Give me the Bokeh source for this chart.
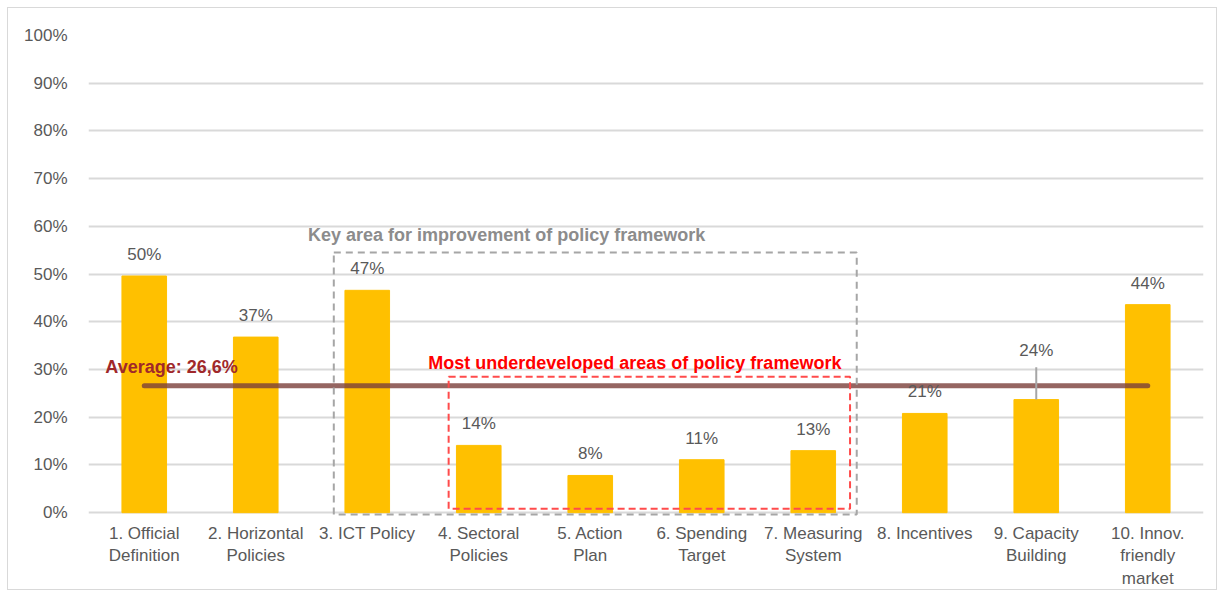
from bokeh.plotting import figure
from bokeh.models import Range1d, FixedTicker, BoxAnnotation, Label
from bokeh.core.properties import value
from bokeh.embed import file_html
from bokeh.resources import INLINE

categories = ["1. Official\nDefinition", "2. Horizontal\nPolicies", "3. ICT Policy",
              "4. Sectoral\nPolicies", "5. Action\nPlan", "6. Spending\nTarget",
              "7. Measuring\nSystem", "8. Incentives", "9. Capacity\nBuilding",
              "10. Innov.\nfriendly\nmarket"]
values = [49.6, 36.8, 46.6, 14.1, 7.8, 11.1, 13.0, 20.8, 23.7, 43.6]
value_labels = ["50%", "37%", "47%", "14%", "8%", "11%", "13%", "21%", "24%", "44%"]
average = 26.6
average_label = "Average: 26,6%"
y_ticks = [0, 10, 20, 30, 40, 50, 60, 70, 80, 90, 100]
grey_title = "Key area for improvement of policy framework"
red_title = "Most underdeveloped areas of policy framework"

FONT = "Liberation Sans"
xs = list(range(1, len(categories) + 1))

p = figure(width=1210, height=583, output_backend="svg", toolbar_location=None,
           x_range=Range1d(0.5, len(categories) + 0.5), y_range=Range1d(-0.8, 100),
           min_border_left=80, min_border_top=27, min_border_right=15, min_border_bottom=60)
p.styles = {"border": "1px solid #d9d9d9", "margin-left": "7px", "margin-top": "7px"}
p.outline_line_color = None
p.background_fill_color = "white"

# axes
p.yaxis.ticker = FixedTicker(ticks=y_ticks)
p.yaxis.major_label_overrides = {t: f"{t}%" for t in y_ticks}
p.yaxis.axis_line_color = None
p.yaxis.major_tick_line_color = None
p.yaxis.minor_tick_line_color = None
p.yaxis.major_label_standoff = 15
p.yaxis.major_label_text_font = FONT
p.yaxis.major_label_text_font_size = "17px"
p.yaxis.major_label_text_color = "#595959"

p.xaxis.ticker = FixedTicker(ticks=xs)
p.xaxis.major_label_overrides = {x: c for x, c in zip(xs, categories)}
p.xaxis.axis_line_color = None
p.xaxis.major_tick_line_color = None
p.xaxis.minor_tick_line_color = None
p.xaxis.major_label_standoff = 1
p.xaxis.major_label_text_font = FONT
p.xaxis.major_label_text_font_size = "17px"
p.xaxis.major_label_text_color = "#595959"

p.xgrid.grid_line_color = None
p.ygrid.ticker = FixedTicker(ticks=y_ticks)
p.ygrid.grid_line_color = "#d9d9d9"
p.ygrid.grid_line_width = 2

# bars
p.vbar(x=xs, top=values, bottom=0, width=0.4, color="#FFC000")

# boxes
p.add_layout(BoxAnnotation(left=2.7, right=7.39, bottom=-0.4, top=54.5,
                           fill_color=None, fill_alpha=0, line_color="#a6a6a6",
                           line_alpha=1.0, line_width=2, line_dash="7 5"))
p.add_layout(BoxAnnotation(left=3.73, right=7.33, bottom=0.8, top=28.5,
                           fill_color=None, fill_alpha=0, line_color="#ff4b4b",
                           line_alpha=1.0, line_width=2, line_dash="7 4"))

# average line
p.line(x=[xs[0], xs[-1]], y=[average, average], line_color="#7B3F3A", line_alpha=0.8,
       line_width=5, line_cap="round")

# leader line for 9th label
p.segment(x0=[xs[8]], y0=[values[8]], x1=[xs[8]], y1=[values[8] + 6.8],
          line_color="#a6a6a6", line_width=2)

# value labels
offsets = [-12] * len(values)
offsets[8] = -40
p.text(x=xs, y=values, text=value_labels, y_offset=offsets, text_align="center",
       text_baseline="bottom", text_font=value(FONT), text_font_size="17px",
       text_color="#595959")

p.add_layout(Label(x=1.245, y=30.6, text=average_label, text_align="center",
                   text_baseline="middle", text_font=FONT, text_font_size="18px",
                   text_font_style="bold", text_color="#A0282A"))
p.add_layout(Label(x=4.25, y=58.1, text=grey_title, text_align="center",
                   text_baseline="middle", text_font=FONT, text_font_size="18px",
                   text_font_style="bold", text_color="#8c8c8c"))
p.add_layout(Label(x=5.40, y=31.4, text=red_title, text_align="center",
                   text_baseline="middle", text_font=FONT, text_font_size="18px",
                   text_font_style="bold", text_color="#ff0000"))

open("out.html", "w").write(file_html(p, INLINE))
